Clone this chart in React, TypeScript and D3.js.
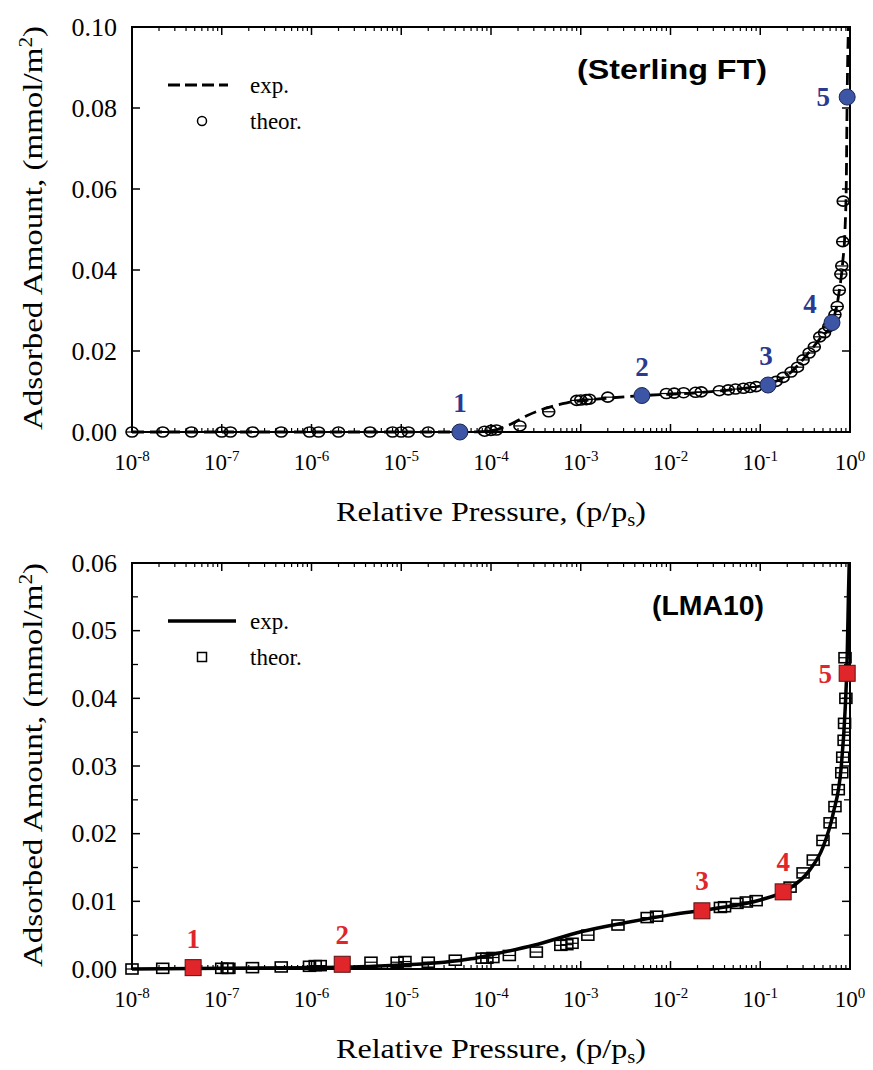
import React from "react";
import * as d3 from "d3";

// ---------- data: Sterling FT ----------
const sterlingExp: [number, number][] = [
  [1e-8, 0], [1e-6, 0], [1e-5, 0], [6e-5, 0], [1e-4, 0.0003], [1.5e-4, 0.0015],
  [2.5e-4, 0.004], [4e-4, 0.0058], [7e-4, 0.0072], [1.5e-3, 0.0081], [5e-3, 0.009],
  [2e-2, 0.0097], [5e-2, 0.0105], [0.12, 0.0118], [0.2, 0.014], [0.33, 0.019],
  [0.46, 0.023], [0.63, 0.027], [0.75, 0.034], [0.83, 0.042], [0.88, 0.05],
  [0.91, 0.062], [0.93, 0.083], [0.96, 0.1],
];
const sterlingTheor: [number, number][] = [
  [1e-8, 0], [2.2e-8, 0], [4.6e-8, 0], [1e-7, 0], [1.25e-7, 0], [2.2e-7, 0],
  [4.6e-7, 0], [9.5e-7, 0], [1.2e-6, 0], [2e-6, 0], [4.5e-6, 0], [8e-6, 0],
  [1e-5, 0], [1.2e-5, 0], [2e-5, 0], [8.5e-5, 0.0002], [1e-4, 0.0004],
  [1.15e-4, 0.0005], [2.1e-4, 0.0015], [4.4e-4, 0.005], [9e-4, 0.0078],
  [1e-3, 0.0079], [1.15e-3, 0.008], [1.25e-3, 0.0081], [2e-3, 0.0086],
  [9e-3, 0.0095], [1.1e-2, 0.0096], [1.4e-2, 0.0097], [1.9e-2, 0.0098],
  [2.2e-2, 0.0099], [3.5e-2, 0.0102], [4.4e-2, 0.0104], [5.3e-2, 0.0106],
  [6.5e-2, 0.0108], [7.7e-2, 0.011], [0.09, 0.0112], [0.15, 0.0125],
  [0.18, 0.0135], [0.22, 0.0148], [0.26, 0.016], [0.3, 0.0178], [0.35, 0.0195],
  [0.4, 0.021], [0.46, 0.0235], [0.52, 0.0245], [0.58, 0.026], [0.68, 0.029],
  [0.72, 0.031], [0.76, 0.035], [0.79, 0.039], [0.81, 0.041], [0.83, 0.047],
  [0.84, 0.057],
];
const sterlingKey: [number, number][] = [
  [4.5e-5, 0], [4.8e-3, 0.009], [0.122, 0.0116], [0.63, 0.027], [0.93, 0.0827],
];

// ---------- data: LMA10 ----------
const lmaExp: [number, number][] = [
  [1e-8, 0], [1e-6, 0.0002], [5e-6, 0.0004], [1e-5, 0.0006], [3e-5, 0.001],
  [6e-5, 0.0015], [1e-4, 0.0021], [3e-4, 0.0035], [1e-3, 0.0055], [3e-3, 0.0068],
  [1e-2, 0.008], [3e-2, 0.0089], [0.1, 0.0102], [0.2, 0.0117], [0.35, 0.0145],
  [0.5, 0.018], [0.65, 0.023], [0.8, 0.03], [0.88, 0.038], [0.93, 0.046],
  [0.96, 0.055], [0.98, 0.06],
];
const lmaTheor: [number, number][] = [
  [1e-8, 0], [2.2e-8, 0.0001], [1e-7, 0.0001], [1.15e-7, 0.0001], [1.2e-7, 0.0001],
  [2.2e-7, 0.0002], [4.6e-7, 0.0003], [9.5e-7, 0.0004], [1.1e-6, 0.0005],
  [1.25e-6, 0.0005], [4.6e-6, 0.001], [9e-6, 0.001], [1.1e-5, 0.0011],
  [2e-5, 0.001], [4e-5, 0.0013], [8e-5, 0.0016], [9e-5, 0.0016], [1.05e-4, 0.0017],
  [1.6e-4, 0.002], [3.2e-4, 0.0025], [6e-4, 0.0035], [7e-4, 0.0036],
  [8e-4, 0.0038], [1.2e-3, 0.005], [2.6e-3, 0.0065], [5.5e-3, 0.0076],
  [7e-3, 0.0078], [3.6e-2, 0.0091], [4e-2, 0.0092], [5.5e-2, 0.0097],
  [7e-2, 0.0099], [0.09, 0.0101], [0.215, 0.0121], [0.3, 0.0142], [0.39, 0.0161],
  [0.5, 0.019], [0.6, 0.0216], [0.68, 0.024], [0.74, 0.0265], [0.81, 0.029],
  [0.83, 0.0313], [0.86, 0.0338], [0.87, 0.0363], [0.9, 0.04], [0.88, 0.046],
];
const lmaKey: [number, number][] = [
  [4.8e-8, 0.0002], [2.2e-6, 0.0007], [0.0224, 0.0086], [0.18, 0.0114], [0.93, 0.0437],
];

const xTickExps = [-8, -7, -6, -5, -4, -3, -2, -1, 0];
const sterlingYTicks = [0, 0.02, 0.04, 0.06, 0.08, 0.1];
const lmaYTicks = [0, 0.01, 0.02, 0.03, 0.04, 0.05, 0.06];
const lmaYMinor = [0.005, 0.015, 0.025, 0.035, 0.045, 0.055];
const keyLabels = ["1", "2", "3", "4", "5"];

const SERIF = "'Liberation Serif', 'Times New Roman', serif";
const SANS = "'Liberation Sans', Arial, sans-serif";

interface PanelProps {
  top: number;
  bottom: number;
  yMax: number;
  yTicks: number[];
  yMinor: number[];
  yFmt: (v: number) => string;
  exp: [number, number][];
  theor: [number, number][];
  keyPts: [number, number][];
  keyColor: string;
  keyShape: "circle" | "square";
  dashed: boolean;
  title: string;
  titleX: number;
  titleLen: number;
  keyOffsets: [number, number][];
}

const LEFT = 132;
const RIGHT = 850;

function Panel(p: PanelProps) {
  const x = d3.scaleLog().domain([1e-8, 1]).range([LEFT, RIGHT]);
  const y = d3.scaleLinear().domain([0, p.yMax]).range([p.bottom, p.top]);
  const line = d3
    .line<[number, number]>()
    .x((d) => x(d[0]))
    .y((d) => y(d[1]))
    .curve(d3.curveMonotoneX);

  const minorX: number[] = [];
  for (let e = -8; e < 0; e++) for (let k = 2; k <= 9; k++) minorX.push(k * Math.pow(10, e));

  const markSize = 10;
  return (
    <g>
      <rect x={LEFT} y={p.top} width={RIGHT - LEFT} height={p.bottom - p.top} fill="none" stroke="#000" strokeWidth={2} />
      {xTickExps.map((e) => {
        const xx = x(Math.pow(10, e));
        return (
          <g key={"xt" + e}>
            <line x1={xx} x2={xx} y1={p.bottom} y2={p.bottom - 8} stroke="#000" strokeWidth={1.5} />
            <line x1={xx} x2={xx} y1={p.top} y2={p.top + 8} stroke="#000" strokeWidth={1.5} />
            <text x={xx} y={p.bottom + 38} textAnchor="middle" fontFamily={SERIF} fontSize={23}>
              10<tspan dy={-9} fontSize={15}>{String(e)}</tspan>
            </text>
          </g>
        );
      })}
      {minorX.map((v, i) => {
        const xx = x(v);
        return (
          <g key={"mx" + i}>
            <line x1={xx} x2={xx} y1={p.bottom} y2={p.bottom - 4} stroke="#000" strokeWidth={1.2} />
            <line x1={xx} x2={xx} y1={p.top} y2={p.top + 4} stroke="#000" strokeWidth={1.2} />
          </g>
        );
      })}
      {p.yTicks.map((v) => (
        <g key={"yt" + v}>
          <line x1={LEFT} x2={LEFT + 8} y1={y(v)} y2={y(v)} stroke="#000" strokeWidth={1.5} />
          <line x1={RIGHT} x2={RIGHT - 8} y1={y(v)} y2={y(v)} stroke="#000" strokeWidth={1.5} />
          <text x={LEFT - 15} y={y(v) + 8.5} textAnchor="end" fontFamily={SERIF} fontSize={26}>
            {p.yFmt(v)}
          </text>
        </g>
      ))}
      {p.yMinor.map((v) => (
        <g key={"ym" + v}>
          <line x1={LEFT} x2={LEFT + 6} y1={y(v)} y2={y(v)} stroke="#000" strokeWidth={1.3} />
          <line x1={RIGHT} x2={RIGHT - 6} y1={y(v)} y2={y(v)} stroke="#000" strokeWidth={1.3} />
        </g>
      ))}
      <path
        d={line(p.exp) || ""}
        fill="none"
        stroke="#000"
        strokeWidth={p.dashed ? 2.8 : 3.5}
        strokeDasharray={p.dashed ? "12 6" : undefined}
      />
      {p.theor.map((d, i) =>
        p.keyShape === "circle" ? (
          <g key={"th" + i}>
            <ellipse cx={x(d[0])} cy={y(d[1])} rx={6} ry={5} fill="none" stroke="#000" strokeWidth={1.6} />
            <line x1={x(d[0]) - 6} x2={x(d[0]) + 6} y1={y(d[1])} y2={y(d[1])} stroke="#000" strokeWidth={1.2} />
          </g>
        ) : (
          <g key={"th" + i}>
            <rect x={x(d[0]) - 6} y={y(d[1]) - markSize / 2} width={12} height={markSize} fill="none" stroke="#000" strokeWidth={1.6} />
            <line x1={x(d[0]) - 6} x2={x(d[0]) + 6} y1={y(d[1])} y2={y(d[1])} stroke="#000" strokeWidth={1.2} />
          </g>
        )
      )}
      {p.keyPts.map((d, i) => (
        <g key={"k" + i}>
          {p.keyShape === "circle" ? (
            <circle cx={x(d[0])} cy={y(d[1])} r={8} fill={p.keyColor} stroke="#1c2550" strokeWidth={1} />
          ) : (
            <rect x={x(d[0]) - 8} y={y(d[1]) - 8} width={16} height={16} fill={p.keyColor} stroke="#5a1010" strokeWidth={1} />
          )}
          <text
            x={x(d[0]) + p.keyOffsets[i][0]}
            y={y(d[1]) + p.keyOffsets[i][1]}
            textAnchor="middle"
            fontFamily={SERIF}
            fontWeight="bold"
            fontSize={27}
            fill={p.keyShape === "circle" ? "#2b3990" : "#e0262b"}
          >
            {keyLabels[i]}
          </text>
        </g>
      ))}
      <text
        x={p.titleX - p.titleLen}
        y={p.top + 52}
        fontFamily={SANS}
        fontWeight="bold"
        fontSize={27}
        textLength={p.titleLen}
        lengthAdjust="spacingAndGlyphs"
      >
        {p.title}
      </text>
      <line
        x1={168}
        x2={p.dashed ? 228 : 236}
        y1={p.top + 58}
        y2={p.top + 58}
        stroke="#000"
        strokeWidth={p.dashed ? 3 : 3.5}
        strokeDasharray={p.dashed ? "12 5" : undefined}
      />
      <text x={250} y={p.top + 66} fontFamily={SERIF} fontSize={23}>exp.</text>
      {p.keyShape === "circle" ? (
        <circle cx={202} cy={p.top + 94} r={4.5} fill="none" stroke="#000" strokeWidth={1.5} />
      ) : (
        <rect x={197.5} y={p.top + 89.5} width={9} height={9} fill="none" stroke="#000" strokeWidth={1.5} />
      )}
      <text x={250} y={p.top + 102} fontFamily={SERIF} fontSize={23}>theor.</text>
      <text
        x={336}
        y={p.bottom + 89}
        fontFamily={SERIF}
        fontSize={28}
        textLength={310}
        lengthAdjust="spacingAndGlyphs"
      >
        Relative Pressure, (p/p<tspan dy={5} fontSize={18}>s</tspan><tspan dy={-5}>)</tspan>
      </text>
      <text
        transform={`translate(42, ${p.bottom - 2}) rotate(-90)`}
        fontFamily={SERIF}
        fontSize={28}
        textLength={404}
        lengthAdjust="spacingAndGlyphs"
      >
        Adsorbed Amount, (mmol/m<tspan dy={-10} fontSize={18}>2</tspan><tspan dy={10}>)</tspan>
      </text>
    </g>
  );
}

export default function App() {
  return (
    <svg width={873} height={1070} style={{ display: "block", position: "absolute", left: 0, top: 0, background: "#fff" }}>
      <rect x={0} y={0} width={873} height={1070} fill="#fff" />
      <Panel
        top={27}
        bottom={432}
        yMax={0.1}
        yTicks={sterlingYTicks}
        yMinor={[]}
        yFmt={(v) => v.toFixed(2)}
        exp={sterlingExp}
        theor={sterlingTheor}
        keyPts={sterlingKey}
        keyColor="#3d55a5"
        keyShape="circle"
        dashed={true}
        title="(Sterling FT)"
        titleX={767}
        titleLen={190}
        keyOffsets={[[0, -20], [0, -20], [-2, -20], [-22, -10], [-24, 9]]}
      />
      <Panel
        top={563}
        bottom={969}
        yMax={0.06}
        yTicks={lmaYTicks}
        yMinor={lmaYMinor}
        yFmt={(v) => v.toFixed(2)}
        exp={lmaExp}
        theor={lmaTheor}
        keyPts={lmaKey}
        keyColor="#e0262b"
        keyShape="square"
        dashed={false}
        title="(LMA10)"
        titleX={764}
        titleLen={112}
        keyOffsets={[[0, -20], [0, -20], [0, -21], [0, -21], [-22, 10]]}
      />
    </svg>
  );
}
